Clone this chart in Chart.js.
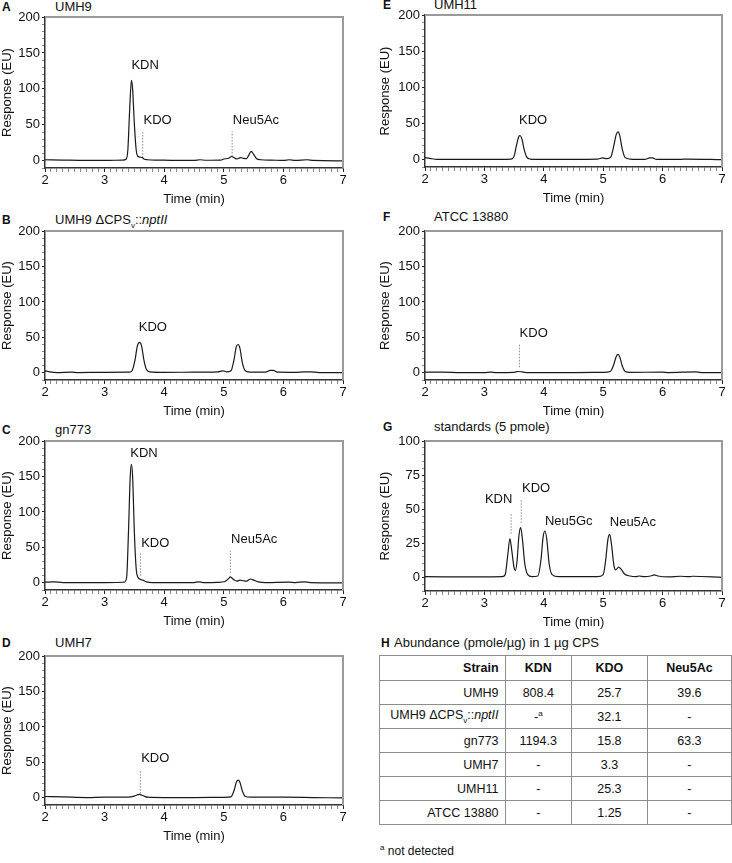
<!DOCTYPE html>
<html>
<head>
<meta charset="utf-8">
<script src="https://cdn.jsdelivr.net/npm/chart.js@4.4.1/dist/chart.umd.min.js"></script>
<style>
  body { margin: 0; width: 732px; height: 863px; position: relative; background: #fff;
         font-family: "Liberation Sans", Arial, sans-serif; color: #111; overflow: hidden; }
  canvas { position: absolute; }
  .ttl { position: absolute; font-size: 13px; line-height: 14px; white-space: nowrap; }
  .let { position: absolute; font-size: 12px; font-weight: bold; line-height: 14px; }
  table { position: absolute; left: 379px; top: 655px; border-collapse: collapse; font-size: 12.5px; }
  td, th { border: 1.5px solid #8c8c8c; height: 23px; padding: 0 6px; text-align: center; }
  td:first-child, th:first-child { text-align: right; }
  th { font-weight: bold; height: 24px; }
  sub, sup { font-size: 8px; }
</style>
</head>
<body>

<div class="let" style="left:2px;top:0px">A</div><div class="ttl" style="left:55px;top:0px">UMH9</div>
<div class="let" style="left:2px;top:213px">B</div><div class="ttl" style="left:55px;top:213px">UMH9 ΔCPS<sub>v</sub>::<i>nptII</i></div>
<div class="let" style="left:2px;top:423px">C</div><div class="ttl" style="left:55px;top:423px">gn773</div>
<div class="let" style="left:2px;top:636px">D</div><div class="ttl" style="left:55px;top:636px">UMH7</div>
<div class="let" style="left:383px;top:-2px">E</div><div class="ttl" style="left:434px;top:-2px">UMH11</div>
<div class="let" style="left:383px;top:210px">F</div><div class="ttl" style="left:434px;top:210px">ATCC 13880</div>
<div class="let" style="left:383px;top:420px">G</div><div class="ttl" style="left:434px;top:420px">standards (5 pmole)</div>

<canvas id="cA"></canvas><canvas id="cB"></canvas><canvas id="cC"></canvas><canvas id="cD"></canvas>
<canvas id="cE"></canvas><canvas id="cF"></canvas><canvas id="cG"></canvas>

<div class="let" style="left:381px;top:636px">H</div>
<div class="ttl" style="left:394px;top:636px">Abundance (pmole/µg) in 1 µg CPS</div>
<table id="tbl"></table>
<div class="ttl" style="left:380px;top:841px;font-size:12px"><sup>a</sup> not detected</div>

<script>
// chromatogram traces, [time (min), response (EU)]
const traceA = [[2.0,1.5],[2.3,1],[2.7,0.5],[3.0,0.5],[3.3,1],[3.36,2],[3.39,15],[3.42,70],[3.45,112],[3.47,100],
  [3.50,50],[3.53,15],[3.56,6],[3.60,5],[3.63,4.5],[3.66,2.5],[3.72,1.5],[3.9,1],[4.2,0.5],[4.5,0.5],[4.6,1.5],
  [4.7,0.8],[4.95,1],[5.0,2.5],[5.08,3.5],[5.13,6],[5.18,4],[5.22,2.5],[5.28,4.5],[5.33,3.5],[5.38,3],[5.42,8],
  [5.46,13],[5.50,9],[5.55,3],[5.62,1.5],[5.8,1],[6.0,0.5],[6.1,1.5],[6.2,0.5],[6.4,1.5],[6.5,0.5],[7.0,0]];
const traceB = [[2.0,3],[2.08,1.5],[2.2,0.5],[2.45,1],[2.55,0.5],[3.0,0.8],[3.4,1],[3.46,3],[3.51,18],[3.55,38],
  [3.59,43],[3.62,38],[3.66,18],[3.70,5],[3.76,1.5],[4.0,0.8],[4.5,1],[4.9,1.5],[4.98,3],[5.05,1.5],[5.12,3],
  [5.17,18],[5.21,37],[5.24,40],[5.27,35],[5.31,15],[5.36,3],[5.45,1],[5.7,1],[5.78,3.5],[5.83,3.5],[5.9,1],
  [6.2,0.8],[6.35,1.5],[6.45,1.5],[6.6,0.5],[7.0,0.3]];
const traceC = [[2.0,1],[2.15,1.5],[2.3,0.5],[3.0,0.5],[3.33,1],[3.37,8],[3.40,70],[3.43,150],[3.45,167],[3.47,150],
  [3.50,70],[3.53,20],[3.56,8],[3.60,5],[3.65,3.5],[3.70,1.5],[3.8,0.5],[4.5,0.5],[4.58,1.5],[4.65,0.5],[4.9,0.8],
  [5.02,2],[5.08,6],[5.11,8.5],[5.16,5],[5.22,2.5],[5.27,4],[5.33,3],[5.38,2.5],[5.45,5.5],[5.50,4],[5.58,1.5],
  [5.7,0.5],[6.1,1],[6.2,0.5],[6.35,1.5],[6.45,0.5],[7.0,0]];
const traceD = [[2.0,2],[2.3,1.5],[2.7,0.5],[3.0,1],[3.4,1],[3.5,2.5],[3.58,5],[3.65,3],[3.72,1],[4.0,0.5],[4.5,0.5],
  [5.0,0.8],[5.12,1.5],[5.17,10],[5.21,22],[5.24,25],[5.27,22],[5.31,10],[5.36,2],[5.45,1],[6.0,1],[6.5,0.5],[7.0,0]];
const traceE = [[2.0,3],[2.08,2],[2.2,0.5],[3.0,0.5],[3.45,1],[3.50,5],[3.54,20],[3.58,32],[3.60,33.5],[3.63,29],
  [3.67,14],[3.71,4],[3.77,1],[4.0,0.5],[4.9,1],[4.99,2.5],[5.06,1.5],[5.13,4],[5.18,20],[5.22,35],[5.25,38.5],
  [5.28,33],[5.32,15],[5.37,3],[5.45,1],[5.7,0.5],[5.78,2.5],[5.83,2.5],[5.9,0.5],[6.3,0.5],[6.4,1],[7.0,0.3]];
const traceF = [[2.0,1],[2.3,1],[2.6,0.5],[3.0,0.5],[3.1,1],[3.2,0.5],[3.5,0.8],[3.57,2],[3.63,1.5],[3.7,0.5],
  [4.5,0.5],[5.0,0.8],[5.12,2],[5.17,10],[5.22,23],[5.25,26],[5.28,22],[5.32,10],[5.37,2],[5.45,0.8],[6.0,1],
  [6.1,0.5],[6.55,1.5],[6.65,0.5],[7.0,0.3]];
const traceG = [[2.0,0.5],[3.0,0.3],[3.3,0.5],[3.35,2],[3.39,15],[3.43,28.5],[3.46,20],[3.50,7],[3.52,5],[3.55,12],
  [3.58,30],[3.61,36.5],[3.64,28],[3.68,10],[3.73,2],[3.8,0.5],[3.9,1],[3.95,12],[3.99,30],[4.02,34],[4.05,28],
  [4.09,10],[4.14,2],[4.25,0.5],[4.9,0.5],[5.0,2],[5.04,12],[5.08,28],[5.11,31.5],[5.14,24],[5.18,9],[5.21,5.5],
  [5.26,7.5],[5.30,6],[5.36,2.5],[5.45,1],[5.55,0.5],[5.6,1],[5.7,0.5],[5.8,1],[5.86,1.8],[5.92,1],[6.1,0.3],
  [6.3,0.8],[6.45,0.5],[6.5,0.8],[7.0,0]];

// peak names [text, time, response] and dotted markers [time, low, high]
const namesA = [["KDN",3.68,132],["KDO",3.89,56],["Neu5Ac",5.54,56]];
const marksA = [[3.64,4.5,41],[5.14,6,41]];
const namesB = [["KDO",3.81,64]];
const namesC = [["KDN",3.66,183],["KDO",3.85,56],["Neu5Ac",5.51,61]];
const marksC = [[3.60,10,42],[5.11,14,45]];
const namesD = [["KDO",3.85,55]];
const marksD = [[3.60,6,40]];
const namesE = [["KDO",3.82,55]];
const namesF = [["KDO",3.83,55]];
const marksF = [[3.59,8,41]];
const namesG = [["KDN",3.24,57],["KDO",3.87,65],["Neu5Gc",4.42,41],["Neu5Ac",5.50,40]];
const marksG = [[3.45,32,47],[3.62,40,57]];

// table H
const tableHead = ["Strain", "KDN", "KDO", "Neu5Ac"];
const strains = ["UMH9", "UMH9 ΔCPS<sub>v</sub>::<i>nptII</i>", "gn773", "UMH7", "UMH11", "ATCC 13880"];
const kdnVals = ["808.4", "-<sup>a</sup>", "1194.3", "-", "-", "-"];
const kdoVals = ["25.7", "32.1", "15.8", "3.3", "25.3", "1.25"];
const neuVals = ["39.6", "-", "63.3", "-", "-", "-"];

const FONT = "'Liberation Sans', Arial, sans-serif";

const tbl = document.getElementById("tbl");
tbl.innerHTML =
  "<tr>" + tableHead.map((h, i) => `<th style="width:${[114, 54, 64, 72][i]}px">${h}</th>`).join("") + "</tr>" +
  strains.map((s, i) => `<tr><td>${s}</td><td>${kdnVals[i]}</td><td>${kdoVals[i]}</td><td>${neuVals[i]}</td></tr>`).join("");

const whole = (v) => Math.abs(v - Math.round(v)) < 1e-6;

const framePlugin = {
  id: "frame",
  afterDraw(chart) {
    const { ctx, chartArea: a } = chart;
    ctx.save();
    ctx.strokeStyle = "#9a9a9a";
    ctx.lineWidth = 2;
    ctx.beginPath();
    ctx.moveTo(a.left, a.top);
    ctx.lineTo(a.right, a.top);
    ctx.lineTo(a.right, a.bottom);
    ctx.stroke();
    ctx.restore();
  },
};

const namePlugin = {
  id: "peakNames",
  afterDatasetsDraw(chart, args, opts) {
    const { ctx, scales } = chart;
    ctx.save();
    ctx.fillStyle = "#111";
    ctx.font = "13px " + FONT;
    ctx.textAlign = "center";
    ctx.textBaseline = "middle";
    (opts.items || []).forEach((n) => {
      ctx.fillText(n[0], scales.x.getPixelForValue(n[1]), scales.y.getPixelForValue(n[2]));
    });
    ctx.restore();
  },
};

function makePanel(id, box, trace, names, marks, yMax, yStep, yMajor) {
  const canvas = document.getElementById(id);
  canvas.width = box.w;
  canvas.height = box.h;
  canvas.style.left = box.x + "px";
  canvas.style.top = box.y + "px";

  const datasets = [{
    data: trace.map((p) => ({ x: p[0], y: p[1] })),
    borderColor: "#1a1a1a",
    borderWidth: 1.2,
    pointRadius: 0,
    cubicInterpolationMode: "monotone",
  }];
  (marks || []).forEach((m) => {
    datasets.push({
      data: [{ x: m[0], y: m[1] }, { x: m[0], y: m[2] }],
      borderColor: "#8a8a8a",
      borderWidth: 1,
      borderDash: [1.5, 1.5],
      pointRadius: 0,
    });
  });

  new Chart(canvas, {
    type: "line",
    data: { datasets },
    plugins: [framePlugin, namePlugin],
    options: {
      responsive: false,
      animation: false,
      layout: { padding: { top: 12, right: box.pr, left: 0, bottom: 0 } },
      plugins: { legend: { display: false }, tooltip: { enabled: false }, peakNames: { items: names } },
      scales: {
        x: {
          type: "linear", min: 2, max: 7,
          afterFit: (s) => { s.height = 39; },
          ticks: {
            stepSize: 0.1, autoSkip: false, maxRotation: 0, padding: 1, color: "#111",
            font: { size: 13, family: FONT },
            callback: (v) => (whole(v) ? Math.round(v) : ""),
          },
          grid: {
            drawOnChartArea: false, tickLength: 4, tickWidth: 1,
            tickColor: (c) => (c.tick && whole(c.tick.value) ? "#222" : "#888"),
          },
          border: { color: "#333", width: 1.5 },
          title: { display: true, text: "Time (min)", color: "#111", font: { size: 13, family: FONT }, padding: 0 },
        },
        y: {
          min: -10, max: yMax,
          afterFit: (s) => { s.width = box.yw; },
          ticks: {
            stepSize: yStep, autoSkip: false, padding: 2, color: "#111",
            font: { size: 13, family: FONT },
            callback: (v) => (v >= 0 && v % yMajor === 0 ? v : ""),
          },
          grid: {
            drawOnChartArea: false, tickLength: 3, tickWidth: 1,
            tickColor: (c) => (c.tick && c.tick.value % yMajor === 0 ? "#222" : "#888"),
          },
          border: { color: "#333", width: 1.5 },
          title: { display: true, text: "Response (EU)", color: "#111", font: { size: 13, family: FONT }, padding: 0 },
        },
      },
    },
  });
}

const leftCol = { x: 0, w: 350, yw: 45, pr: 7 };
const rightCol = { x: 378, w: 354, yw: 47, pr: 10 };

makePanel("cA", { ...leftCol, y: 5, h: 202 }, traceA, namesA, marksA, 200, 10, 50);
makePanel("cB", { ...leftCol, y: 219, h: 200 }, traceB, namesB, [], 200, 10, 50);
makePanel("cC", { ...leftCol, y: 429, h: 200 }, traceC, namesC, marksC, 200, 10, 50);
makePanel("cD", { ...leftCol, y: 644, h: 200 }, traceD, namesD, marksD, 200, 10, 50);
makePanel("cE", { ...rightCol, y: 3, h: 203 }, traceE, namesE, [], 200, 10, 50);
makePanel("cF", { ...rightCol, y: 219, h: 200 }, traceF, namesF, marksF, 200, 10, 50);
makePanel("cG", { ...rightCol, y: 429, h: 201 }, traceG, namesG, marksG, 100, 5, 25);
</script>
</body>
</html>
